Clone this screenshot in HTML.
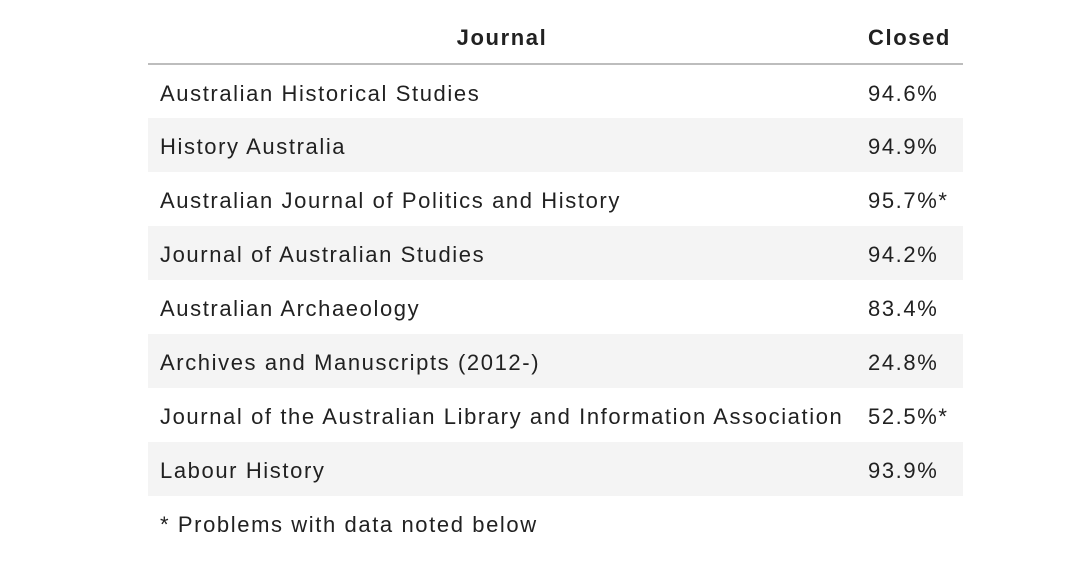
<!DOCTYPE html>
<html><head><meta charset="utf-8"><style>
body{margin:0;background:#fff;width:1088px;height:564px;overflow:hidden;font-family:"Liberation Sans",sans-serif;color:#212121}
table{position:absolute;left:148px;top:10px;width:815px;border-collapse:collapse;font-size:22px;letter-spacing:1.6px}
th{font-weight:bold;height:54px;border-bottom:2px solid #bdbdbd;padding:2px 0 0 0;box-sizing:border-box}
th.j{text-align:center;width:708px}
th.c{text-align:left;padding-left:12px}
td{height:54px;padding:4px 0 0 12px;box-sizing:border-box}
tr.g td{background:#f4f4f4}
.note{position:absolute;left:160px;top:512px;font-size:22px;letter-spacing:1.6px}
</style></head><body>
<table>
<thead><tr><th class="j">Journal</th><th class="c">Closed</th></tr></thead>
<tbody>
<tr><td>Australian Historical Studies</td><td>94.6%</td></tr>
<tr class="g"><td>History Australia</td><td>94.9%</td></tr>
<tr><td>Australian Journal of Politics and History</td><td>95.7%*</td></tr>
<tr class="g"><td>Journal of Australian Studies</td><td>94.2%</td></tr>
<tr><td>Australian Archaeology</td><td>83.4%</td></tr>
<tr class="g"><td>Archives and Manuscripts (2012-)</td><td>24.8%</td></tr>
<tr><td>Journal of the Australian Library and Information Association</td><td>52.5%*</td></tr>
<tr class="g"><td>Labour History</td><td>93.9%</td></tr>
</tbody></table>
<div class="note">* Problems with data noted below</div>
</body></html>
